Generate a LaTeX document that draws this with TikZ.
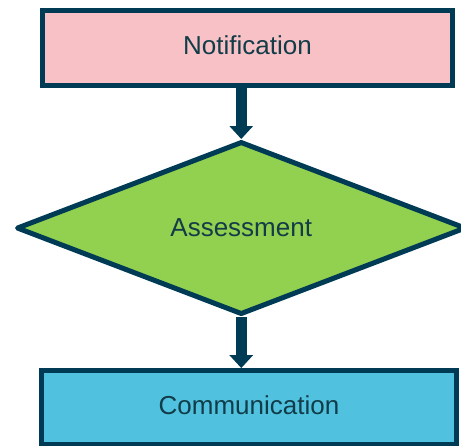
\documentclass[tikz,border=0pt]{standalone}
\usepackage{fontspec}
\setmainfont{Liberation Sans}
\usepackage{xcolor}
\usetikzlibrary{positioning}
\usetikzlibrary{shapes.geometric,arrows.meta}

\definecolor{edgeblue}{HTML}{003B55}
\definecolor{textblue}{HTML}{113C48}
\definecolor{notifpink}{HTML}{F7C1C6}
\definecolor{assessgreen}{HTML}{92D050}
\definecolor{commblue}{HTML}{50C2E0}

\tikzset{
  box/.style={draw=edgeblue, line width=5pt, rectangle, text=textblue,
    text depth=5pt, font=\fontsize{26}{31}\selectfont},
  decision/.style={draw=edgeblue, line width=5pt, diamond, line join=round,
    text=textblue, font=\fontsize{26}{31}\selectfont},
  flow/.style={draw=edgeblue, line width=11pt,
    -{Triangle[width=23pt,length=13pt]}, edgeblue}
}

\begin{document}
\begin{tikzpicture}[x=1pt,y=-1pt]
  \useasboundingbox (0,0) rectangle (461,445);
  \node(notif) [box, fill=notifpink, minimum width=410pt, minimum height=75pt]
    at (247.5,48) {Notification};
  \node(assess) [decision, fill=assessgreen, minimum width=449.5pt,
    minimum height=164pt, below=51pt of notif, xshift=-6.25pt] {Assessment};
  \node(comm) [box, fill=commblue, minimum width=415pt, minimum height=74pt,
    below=51pt of assess, xshift=7.75pt] {Communication};
  \draw[flow] (notif.south -| assess.north) -- (assess.north);
  \draw[flow] (assess.south) -- (comm.north -| assess.south);
\end{tikzpicture}
\end{document}
